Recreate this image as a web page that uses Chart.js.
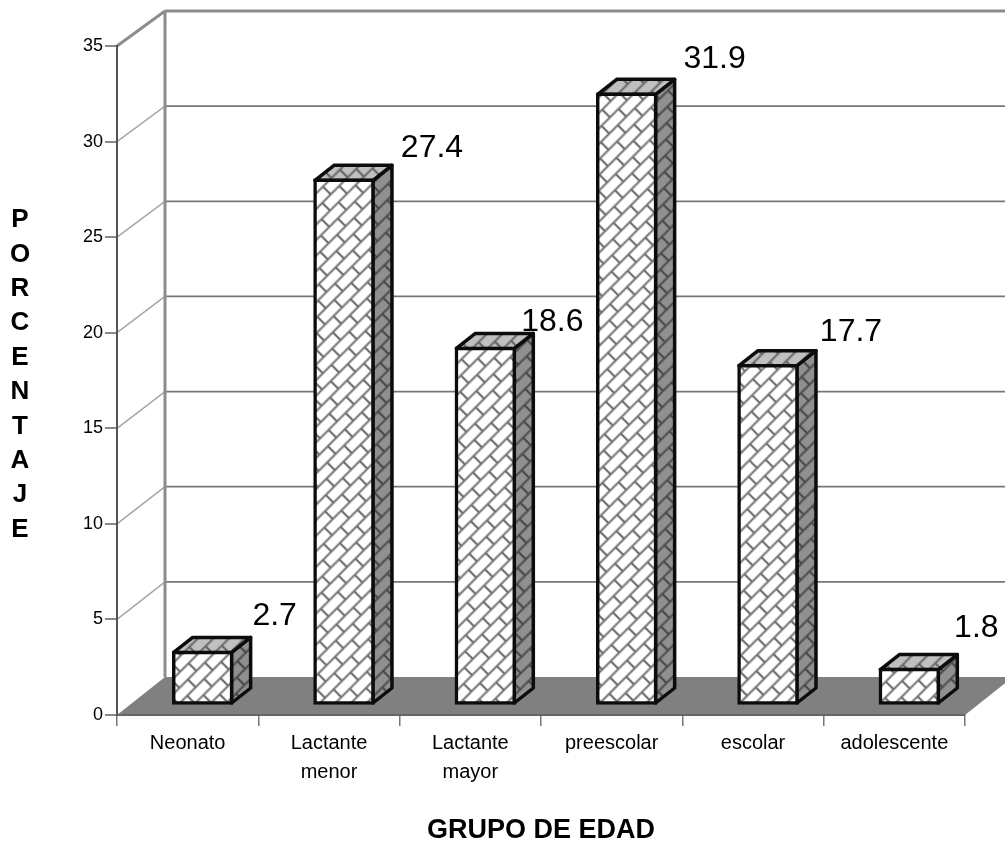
<!DOCTYPE html>
<html lang="es">
<head>
<meta charset="utf-8">
<title>Grupo de edad</title>
<script src="https://cdn.jsdelivr.net/npm/chart.js@4"></script>
<style>
    html, body { margin: 0; padding: 0; background: #fff; }
    #wrap { width: 1005px; height: 847px; }
</style>
</head>
<body>
<div id="wrap"><canvas id="edadChart" width="1005" height="847"></canvas></div>
<script>
const categories = [["Neonato"], ["Lactante", "menor"], ["Lactante", "mayor"], ["preescolar"], ["escolar"], ["adolescente"]];
const porcentajes = [2.7, 27.4, 18.6, 31.9, 17.7, 1.8];
const yTicks = [0, 5, 10, 15, 20, 25, 30, 35];
const xAxisTitle = "GRUPO DE EDAD";
const yAxisTitle = "PORCENTAJE";

const FONT = "Arial, 'Liberation Sans', sans-serif";
const WALL = { x: 48, y: -35, shrink: 666 / 669 };  // depth of the whole box, back wall is a bit shorter
const BAR_POS = { x: 15, y: -11 };  // how far the bars sit behind the front plane
const BAR_DEPTH = { x: 19, y: -15 };
const BAR_LINE = 3.5;
const LABEL_SHIFT = [[72, -36], [88, -32], [67, -26], [88, -35], [83, -34], [67, -41]];

// brick hatch, turned 45 degrees
function brickPattern(ctx, base, line) {
    const tile = document.createElement("canvas");
    tile.width = 24;
    tile.height = 22;
    const t = tile.getContext("2d");
    t.fillStyle = base;
    t.fillRect(0, 0, 24, 22);
    t.strokeStyle = line;
    t.lineWidth = 2.2;
    t.beginPath();
    t.moveTo(0, 5.5); t.lineTo(24, 5.5);
    t.moveTo(0, 16.5); t.lineTo(24, 16.5);
    t.moveTo(6, 5.5); t.lineTo(6, 16.5);
    t.moveTo(18, 0); t.lineTo(18, 5.5);
    t.moveTo(18, 16.5); t.lineTo(18, 22);
    t.stroke();
    const p = ctx.createPattern(tile, "repeat");
    p.setTransform(new DOMMatrix().rotate(-45));
    return p;
}

function line(ctx, x1, y1, x2, y2, color, width) {
    ctx.strokeStyle = color;
    ctx.lineWidth = width;
    ctx.beginPath();
    ctx.moveTo(x1, y1);
    ctx.lineTo(x2, y2);
    ctx.stroke();
}

function poly(ctx, pts, fill, stroke, width) {
    ctx.beginPath();
    pts.forEach((p, i) => i ? ctx.lineTo(p[0], p[1]) : ctx.moveTo(p[0], p[1]));
    ctx.closePath();
    ctx.fillStyle = fill;
    ctx.fill();
    if (stroke) {
        ctx.strokeStyle = stroke;
        ctx.lineWidth = width;
        ctx.lineJoin = "round";
        ctx.stroke();
    }
}

// back wall, left wall and floor, built on the y scale
const boxPlugin = {
    id: "box",
    beforeDraw(chart) {
        const { ctx, chartArea: a, scales: { y } } = chart;
        const bx = a.left + WALL.x;
        const top = y.getPixelForValue(35);
        const zero = y.getPixelForValue(0);
        const backY = py => top + WALL.y + (py - top) * WALL.shrink;
        ctx.save();
        yTicks.forEach(v => {
            const py = y.getPixelForValue(v);
            if (v > 0 && v < 35) {
                line(ctx, a.left, py, bx, backY(py), "#a6a6a6", 1.5);
                line(ctx, bx, backY(py), 1005, backY(py), "#777", 1.8);
            }
        });
        line(ctx, a.left, top, bx, backY(top), "#8c8c8c", 3);
        line(ctx, bx, backY(top), 1005, backY(top), "#8c8c8c", 3);
        line(ctx, bx, backY(top), bx, backY(zero), "#8c8c8c", 3);
        poly(ctx, [[a.left, zero], [bx, backY(zero)], [a.right + WALL.x, backY(zero)], [a.right, zero]], "#808080");
        ctx.restore();
    },
    afterDraw(chart) {
        const { ctx } = chart;
        ctx.save();
        ctx.fillStyle = "#000";
        ctx.font = "bold 26px " + FONT;
        ctx.textAlign = "center";
        ctx.textBaseline = "middle";
        yAxisTitle.split("").forEach((ch, i) => ctx.fillText(ch, 20, 220 + i * 34.4));
        ctx.restore();
    }
};

// side and top faces of each bar plus the value next to it
const bar3dPlugin = {
    id: "bar3d",
    beforeDatasetsDraw(chart) {
        const { ctx } = chart;
        const sidePat = brickPattern(ctx, "#909090", "#4a4a4a");
        const topPat = brickPattern(ctx, "#c0c0c0", "#666");
        ctx.save();
        ctx.translate(BAR_POS.x, BAR_POS.y);
        chart.getDatasetMeta(0).data.forEach(b => {
            const r = b.x + b.width / 2, l = b.x - b.width / 2;
            const dx = BAR_DEPTH.x, dy = BAR_DEPTH.y;
            poly(ctx, [[r, b.y], [r + dx, b.y + dy], [r + dx, b.base + dy], [r, b.base]], sidePat, "#0c0c0c", BAR_LINE);
            poly(ctx, [[l, b.y], [l + dx, b.y + dy], [r + dx, b.y + dy], [r, b.y]], topPat, "#0c0c0c", BAR_LINE);
        });
    },
    afterDatasetsDraw(chart) {
        const { ctx } = chart;
        ctx.restore();
        ctx.save();
        ctx.fillStyle = "#000";
        ctx.font = "32px " + FONT;
        ctx.textAlign = "center";
        ctx.textBaseline = "middle";
        chart.getDatasetMeta(0).data.forEach((b, i) => {
            ctx.fillText(porcentajes[i].toFixed(1),
                b.x + BAR_POS.x + LABEL_SHIFT[i][0],
                b.y + BAR_POS.y + LABEL_SHIFT[i][1]);
        });
        ctx.restore();
    }
};

const edadCtx = document.getElementById("edadChart").getContext("2d");
new Chart(edadCtx, {
    type: "bar",
    data: {
        labels: categories,
        datasets: [{
            label: "Porcentaje",
            data: porcentajes,
            backgroundColor: brickPattern(edadCtx, "#fff", "#707070"),
            borderColor: "#0c0c0c",
            borderWidth: BAR_LINE,
            borderSkipped: false,
            inflateAmount: BAR_LINE / 2,
            categoryPercentage: 0.41,
            barPercentage: 1,
            clip: false
        }]
    },
    options: {
        responsive: false,
        animation: false,
        layout: { padding: { top: 46, left: 0, right: 40, bottom: 0 } },
        plugins: { legend: { display: false }, tooltip: { enabled: false } },
        scales: {
            x: {
                afterFit: s => { s.height = 132; },
                border: { color: "#666", width: 2 },
                grid: { offset: true, drawOnChartArea: false, color: "#777", lineWidth: 1.5, tickLength: 11 },
                ticks: { color: "#000", font: { family: FONT, size: 20, lineHeight: 1.45 }, padding: 3, maxRotation: 0 },
                title: {
                    display: true,
                    text: xAxisTitle,
                    color: "#000",
                    font: { family: FONT, size: 27, weight: "bold" },
                    padding: { top: 22, bottom: 0 }
                }
            },
            y: {
                min: 0,
                max: 35,
                afterFit: s => { s.width = 117; },
                afterBuildTicks: s => { s.ticks = yTicks.map(v => ({ value: v })); },
                border: { color: "#555", width: 2 },
                grid: { drawOnChartArea: false, color: "#888", lineWidth: 2, tickLength: 12 },
                ticks: { color: "#000", font: { family: FONT, size: 18 }, padding: 2 }
            }
        }
    },
    plugins: [boxPlugin, bar3dPlugin]
});
</script>
</body>
</html>
